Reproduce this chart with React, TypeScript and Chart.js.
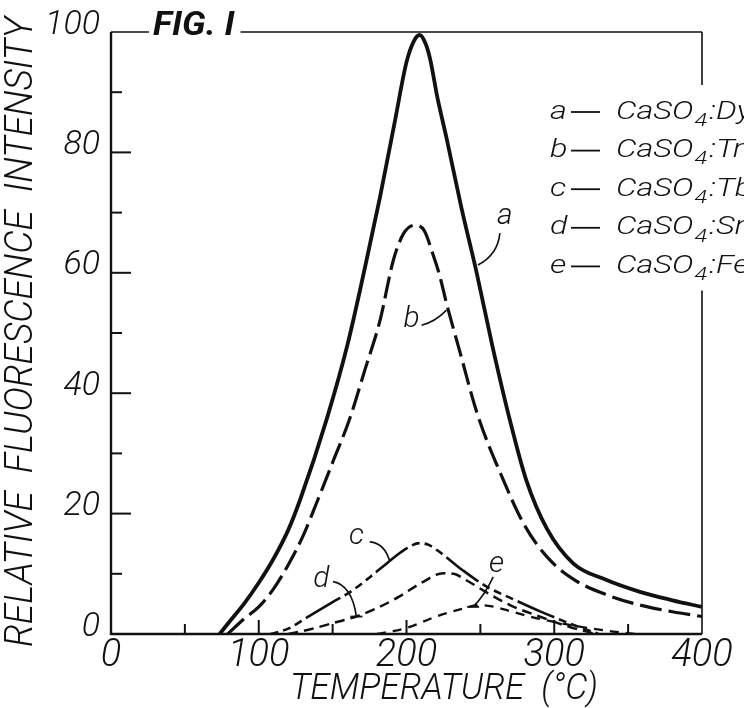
import React, { useEffect, useRef } from "react";
import { Chart, registerables } from "chart.js";

Chart.register(...registerables);

const INK = "#111111";
const FAMILY = 'Roboto, "Open Sans", "DejaVu Sans", sans-serif';

// ---- data (temperature in °C, relative intensity) ----
const tempA = [73.5, 80, 90, 100, 110, 120, 128, 146, 160, 172, 182, 192, 200, 205, 209, 213, 216, 221, 227, 237, 247.5, 258, 270, 281, 295, 313, 335, 358, 380, 400];
const valA = [0, 2, 5, 8.5, 12.5, 17.3, 22.3, 35.7, 48, 61, 72.5, 85, 95, 98.5, 99.5, 98, 95.5, 89, 82.5, 71, 60, 48, 35.5, 25.6, 17.5, 11.7, 9.0, 7.0, 5.6, 4.5];

const tempB = [79, 90, 100, 110, 120, 130, 140, 150, 161.5, 172, 182, 191, 198, 205.6, 212, 218, 222.5, 227, 236, 248, 265.5, 280, 297, 315, 335.5, 358, 380, 400];
const valB = [0, 2.5, 4.5, 7.5, 11.5, 16.3, 22.3, 28.5, 35.7, 44, 52, 62, 66.5, 67.9, 67, 63, 59.5, 55, 47, 36.5, 25.6, 18, 12.3, 8.8, 6.5, 4.8, 3.7, 2.9];

const tempC = [108, 120, 133, 150, 162, 175, 187, 198, 209, 215, 222, 238, 254, 272, 290, 310, 330];
const valC = [0, 0.9, 2.8, 5.3, 7.0, 9.4, 11.8, 13.9, 15.1, 14.8, 13.7, 10.6, 7.9, 5.8, 3.8, 1.8, 0];

const tempD = [120, 135, 150, 166, 180, 195, 210, 225, 232, 240, 255, 270, 290, 310, 328];
const valD = [0, 0.8, 1.8, 2.9, 4.3, 6.2, 8.5, 10.1, 10.0, 9.0, 6.8, 4.8, 2.9, 1.2, 0];

const tempE = [180, 200, 220, 235, 250, 258, 270, 285, 300, 320, 340, 355];
const valE = [0, 1.0, 2.9, 4.0, 4.8, 4.6, 3.8, 2.8, 2.0, 1.1, 0.4, 0];

// ---- labels ----
const curveKeys = ["a", "b", "c", "d", "e"];
const dopants = ["Dy", "Tm", "Tb", "Sm", "Fe"];
const figTitle = "FIG. I";
const xTitle = "TEMPERATURE  (°C)";
const yTitle = "RELATIVE  FLUORESCENCE  INTENSITY";

// tick marks (inside the plot)
const yMinorTicks = [10, 30, 50, 70, 90];
const yMajorTicks = [20, 40, 60, 80];
const xMinorTicks = [50, 150, 250, 350];
const xMajorTicks = [100, 200, 300];

// curve letter labels and leader lines, in data coordinates
const labelTemp = [266.6, 203.4, 166.1, 142.4, 261];
const labelVal = [69.4, 52.2, 16.2, 9.0, 11.5];
const leadStartT = [263.2, 210.2, 175.1, 150.3, 258.7];
const leadStartV = [66.6, 51.3, 15.3, 8.7, 9.5];
const leadCtrlT = [261.8, 219.1, 185.3, 163, 253];
const leadCtrlV = [63, 51.8, 15.1, 8.1, 6.5];
const leadEndT = [248.3, 227.1, 188.7, 166.1, 245.1];
const leadEndV = [61.3, 53.8, 12.0, 2.9, 4.5];
const leadBar = [false, false, false, true, true];

const pts = (xs: number[], ys: number[]) => xs.map((x, i) => ({ x, y: ys[i] }));

function drawFitted(ctx: CanvasRenderingContext2D, text: string, cx: number, cy: number, width: number, font: string, rotate: boolean) {
  ctx.save();
  ctx.translate(cx, cy);
  if (rotate) ctx.rotate(-Math.PI / 2);
  ctx.font = font;
  const w = ctx.measureText(text).width;
  ctx.scale(width / w, 1);
  ctx.textAlign = "center";
  ctx.textBaseline = "middle";
  ctx.fillStyle = INK;
  ctx.fillText(text, 0, 0);
  ctx.restore();
}

// draws left-aligned, horizontally stretched text; returns drawn width
function drawWide(ctx: CanvasRenderingContext2D, text: string, x: number, y: number, font: string, sx: number) {
  ctx.save();
  ctx.font = font;
  ctx.textAlign = "left";
  ctx.textBaseline = "middle";
  ctx.translate(x, y);
  ctx.scale(sx, 1);
  ctx.fillText(text, 0, 0);
  const w = ctx.measureText(text).width * sx;
  ctx.restore();
  return w;
}

const decor = {
  id: "decor",
  afterDraw(chart: any) {
    const { ctx, chartArea: ca, scales } = chart;
    const xs = scales.x;
    const ys = scales.y;
    ctx.save();
    ctx.strokeStyle = INK;
    ctx.fillStyle = INK;
    ctx.lineCap = "butt";

    const seg = (x1: number, y1: number, x2: number, y2: number, w: number) => {
      ctx.lineWidth = w;
      ctx.beginPath();
      ctx.moveTo(x1, y1);
      ctx.lineTo(x2, y2);
      ctx.stroke();
    };

    // title "FIG. I" breaking the top border
    const figX = ca.left + 42;
    const figW = drawWide(ctx, figTitle, figX, ca.top - 5, `italic 700 33px ${FAMILY}`, 1.08);

    // axes and frame
    seg(ca.left, ca.top, ca.left, ca.bottom + 1, 2.4);
    seg(ca.left, ca.bottom, ca.right, ca.bottom, 2.4);
    seg(ca.left, ca.top, figX - 4, ca.top, 1.6);
    seg(figX + figW + 6, ca.top, ca.right, ca.top, 1.6);

    // legend (breaks the right border)
    const legX = 550;
    const legTop = 112;
    const legGap = 38.6;
    seg(ca.right, ca.top, ca.right, legTop - 27, 1.6);
    seg(ca.right, legTop + 4 * legGap + 24, ca.right, ca.bottom, 1.6);
    const legFont = `italic 300 26px ${FAMILY}`;
    const subFont = `italic 300 19px ${FAMILY}`;
    const sx = 1.25;
    curveKeys.forEach((k, i) => {
      const yy = legTop + i * legGap;
      drawWide(ctx, k, legX, yy, legFont, sx);
      seg(legX + 21, yy, legX + 50, yy, 1.8);
      let cx = legX + 66;
      cx += drawWide(ctx, "CaSO", cx, yy, legFont, sx) + 1;
      cx += drawWide(ctx, "4", cx, yy + 9, subFont, sx) + 2;
      drawWide(ctx, ":" + dopants[i], cx, yy, legFont, sx);
    });

    // inward tick marks
    yMinorTicks.forEach((v) => { const p = ys.getPixelForValue(v); seg(ca.left, p, ca.left + 11, p, 2); });
    yMajorTicks.forEach((v) => { const p = ys.getPixelForValue(v); seg(ca.left, p, ca.left + 20, p, 2); });
    xMinorTicks.forEach((v) => { const p = xs.getPixelForValue(v); seg(p, ca.bottom, p, ca.bottom - 10, 2); });
    xMajorTicks.forEach((v) => { const p = xs.getPixelForValue(v); seg(p, ca.bottom, p, ca.bottom - 14, 2); });

    // curve letters and leaders
    ctx.font = `italic 300 30px ${FAMILY}`;
    ctx.textAlign = "center";
    ctx.textBaseline = "middle";
    curveKeys.forEach((k, i) => {
      ctx.fillText(k, xs.getPixelForValue(labelTemp[i]), ys.getPixelForValue(labelVal[i]));
      const sx0 = xs.getPixelForValue(leadStartT[i]);
      const sy0 = ys.getPixelForValue(leadStartV[i]);
      const qx = xs.getPixelForValue(leadCtrlT[i]);
      const qy = ys.getPixelForValue(leadCtrlV[i]);
      const ex = xs.getPixelForValue(leadEndT[i]);
      const ey = ys.getPixelForValue(leadEndV[i]);
      ctx.lineWidth = 1.6;
      ctx.beginPath();
      ctx.moveTo(sx0, sy0);
      ctx.quadraticCurveTo(qx, qy, ex, ey);
      ctx.stroke();
      if (leadBar[i]) seg(ex - 6, ey, ex + 6, ey, 1.8);
    });

    // axis titles
    drawFitted(ctx, xTitle, 444, 690, 308, `italic 300 36px ${FAMILY}`, false);
    drawFitted(ctx, yTitle, 22, 332, 630, `italic 300 38px ${FAMILY}`, true);

    ctx.restore();
  },
};

export default function App() {
  const ref = useRef<HTMLCanvasElement | null>(null);

  useEffect(() => {
    document.body.style.margin = "0";
    const canvas = ref.current;
    if (!canvas) return;
    const tickFont = { family: FAMILY, style: "italic" as const, weight: "300" as any };
    const chart = new Chart(canvas, {
      type: "line",
      data: {
        datasets: [
          { label: "a", data: pts(tempA, valA), borderColor: INK, borderWidth: 3.8, borderDash: [] },
          { label: "b", data: pts(tempB, valB), borderColor: INK, borderWidth: 3.2, borderDash: [22, 7] },
          { label: "c", data: pts(tempC, valC), borderColor: INK, borderWidth: 2.6, borderDash: [40, 5, 8, 5, 8, 5, 8, 5], borderDashOffset: 45 },
          { label: "d", data: pts(tempD, valD), borderColor: INK, borderWidth: 2.5, borderDash: [10, 6] },
          { label: "e", data: pts(tempE, valE), borderColor: INK, borderWidth: 2.3, borderDash: [9, 7] },
        ],
      },
      options: {
        responsive: false,
        animation: false,
        devicePixelRatio: 1,
        parsing: false as any,
        layout: { padding: { top: 32, right: 42, left: 0, bottom: 0 } },
        plugins: { legend: { display: false }, tooltip: { enabled: false }, title: { display: false } },
        elements: {
          point: { radius: 0 },
          line: { cubicInterpolationMode: "monotone", fill: false, borderCapStyle: "butt" },
        },
        scales: {
          x: {
            type: "linear",
            min: 0,
            max: 400,
            ticks: { stepSize: 100, autoSkip: false, maxRotation: 0, color: INK, padding: 0, font: { ...tickFont, size: 38 } },
            grid: { display: false, drawTicks: false },
            border: { display: false },
            afterFit: (s: any) => { s.height = 74; },
          },
          y: {
            type: "linear",
            min: 0,
            max: 100,
            ticks: { stepSize: 20, color: INK, padding: 11, labelOffset: -7, font: { ...tickFont, size: 34 } },
            grid: { display: false, drawTicks: false },
            border: { display: false },
            afterFit: (s: any) => { s.width = 111; },
          },
        },
      },
      plugins: [decor],
    });
    return () => chart.destroy();
  }, []);

  return (
    <div style={{ width: 744, height: 708, background: "#fff" }}>
      <canvas ref={ref} width={744} height={708} style={{ display: "block" }} />
    </div>
  );
}
